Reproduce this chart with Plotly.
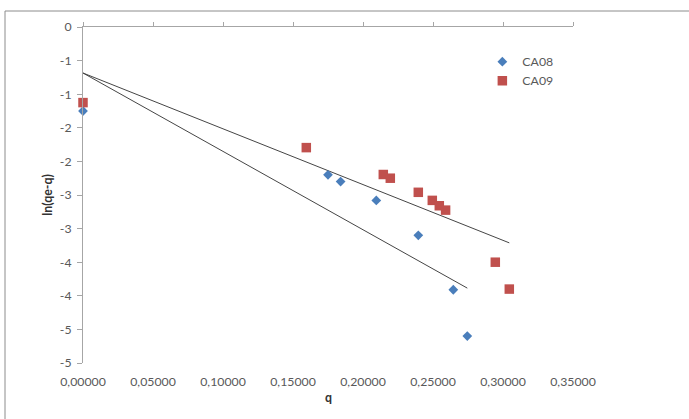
import plotly.graph_objects as go

# Series: q vs ln(qe-q)
ca08_q = [0.0, 0.175, 0.184, 0.2095, 0.2395, 0.2645, 0.2745]
ca08_ln = [-1.25, -2.20, -2.30, -2.58, -3.10, -3.91, -4.60]

ca09_q = [0.0, 0.1595, 0.2145, 0.2195, 0.2395, 0.2495, 0.2545, 0.259, 0.2945, 0.3045]
ca09_ln = [-1.125, -1.795, -2.195, -2.25, -2.46, -2.58, -2.66, -2.725, -3.50, -3.90]

# Linear trendlines (intercept, slope)
ca08_trend = (-0.685, -11.66)
ca09_trend = (-0.685, -8.30)

x_ticks = [0.0, 0.05, 0.10, 0.15, 0.20, 0.25, 0.30, 0.35]
y_ticks = [0.0, -0.5, -1.0, -1.5, -2.0, -2.5, -3.0, -3.5, -4.0, -4.5, -5.0]
y_tick_text = ["0", "-1", "-1", "-2", "-2", "-3", "-3", "-4", "-4", "-5", "-5"]

FONT = "Lato"
TICK_GREY = "#595959"
AXIS_GREY = "#a6a6a6"


def trend_line(qs, coef):
    b, m = coef
    xs = [min(qs), max(qs)]
    return xs, [b + m * x for x in xs]


fig = go.Figure()

for qs, coef in ((ca08_q, ca08_trend), (ca09_q, ca09_trend)):
    tx, ty = trend_line(qs, coef)
    fig.add_trace(go.Scatter(x=tx, y=ty, mode="lines",
                             line=dict(color="#454545", width=1),
                             showlegend=False, hoverinfo="skip", cliponaxis=False))

fig.add_trace(go.Scatter(x=ca08_q, y=ca08_ln, mode="markers", name="CA08",
                         cliponaxis=False,
                         marker=dict(symbol="diamond", size=7.5, color="#4a7ebb",
                                     line=dict(width=0))))
fig.add_trace(go.Scatter(x=ca09_q, y=ca09_ln, mode="markers", name="CA09",
                         cliponaxis=False,
                         marker=dict(symbol="square", size=9.5, color="#c0504d",
                                     line=dict(width=0))))

# helper trace so the top (zero-crossing) horizontal axis is drawn
fig.add_trace(go.Scatter(x=[], y=[], xaxis="x2", yaxis="y", mode="markers",
                         showlegend=False, hoverinfo="skip"))

fig.update_layout(
    width=689, height=419,
    margin=dict(l=83, r=116, t=27, b=56),
    paper_bgcolor="white", plot_bgcolor="white",
    separators=", ",
    font=dict(family=FONT, size=12.3, color=TICK_GREY),
    xaxis=dict(range=[0, 0.35], tickvals=x_ticks, tickformat=".5f",
               showline=False, showgrid=False, zeroline=False,
               ticks="outside", ticklen=7, tickcolor="rgba(0,0,0,0)",
               tickfont=dict(family=FONT, size=12.3, color=TICK_GREY)),
    xaxis2=dict(range=[0, 0.35], overlaying="x", side="top", tickvals=x_ticks,
                showticklabels=False, showline=True, linecolor=AXIS_GREY, linewidth=1,
                ticks="outside", ticklen=4, tickcolor=AXIS_GREY,
                showgrid=False, zeroline=False),
    yaxis=dict(range=[-5, 0], tickvals=y_ticks, ticktext=y_tick_text,
               showline=True, linecolor=AXIS_GREY, linewidth=1,
               ticks="outside", ticklen=5, tickcolor=AXIS_GREY,
               ticklabelstandoff=3,
               showgrid=False, zeroline=False,
               tickfont=dict(family=FONT, size=12.3, color=TICK_GREY)),
    legend=dict(x=0.815, xanchor="left", y=0.94, yanchor="top",
                tracegroupgap=0,
                bgcolor="rgba(0,0,0,0)",
                font=dict(family=FONT, size=12.3, color=TICK_GREY)),
    shapes=[dict(type="rect", xref="paper", yref="paper",
                 x0=(5 - 83) / 490, x1=1.6, y0=-0.6, y1=1 + (27 - 11) / 336,
                 line=dict(color="#8c8c8c", width=1), layer="below")],
    annotations=[
        dict(text="<b>q</b>", xref="paper", yref="paper", x=0.5, y=(363 - 397) / 336,
             xanchor="center", yanchor="middle",
             showarrow=False, font=dict(family=FONT, size=12.3, color="#333333")),
        dict(text="<b>ln(qe-q)</b>", xref="paper", yref="paper",
             x=(46.7 - 83) / 490, y=0.5, textangle=-90,
             xanchor="center", yanchor="middle",
             showarrow=False, font=dict(family=FONT, size=12.3, color="#333333")),
    ],
)

fig.write_html("out.html")
